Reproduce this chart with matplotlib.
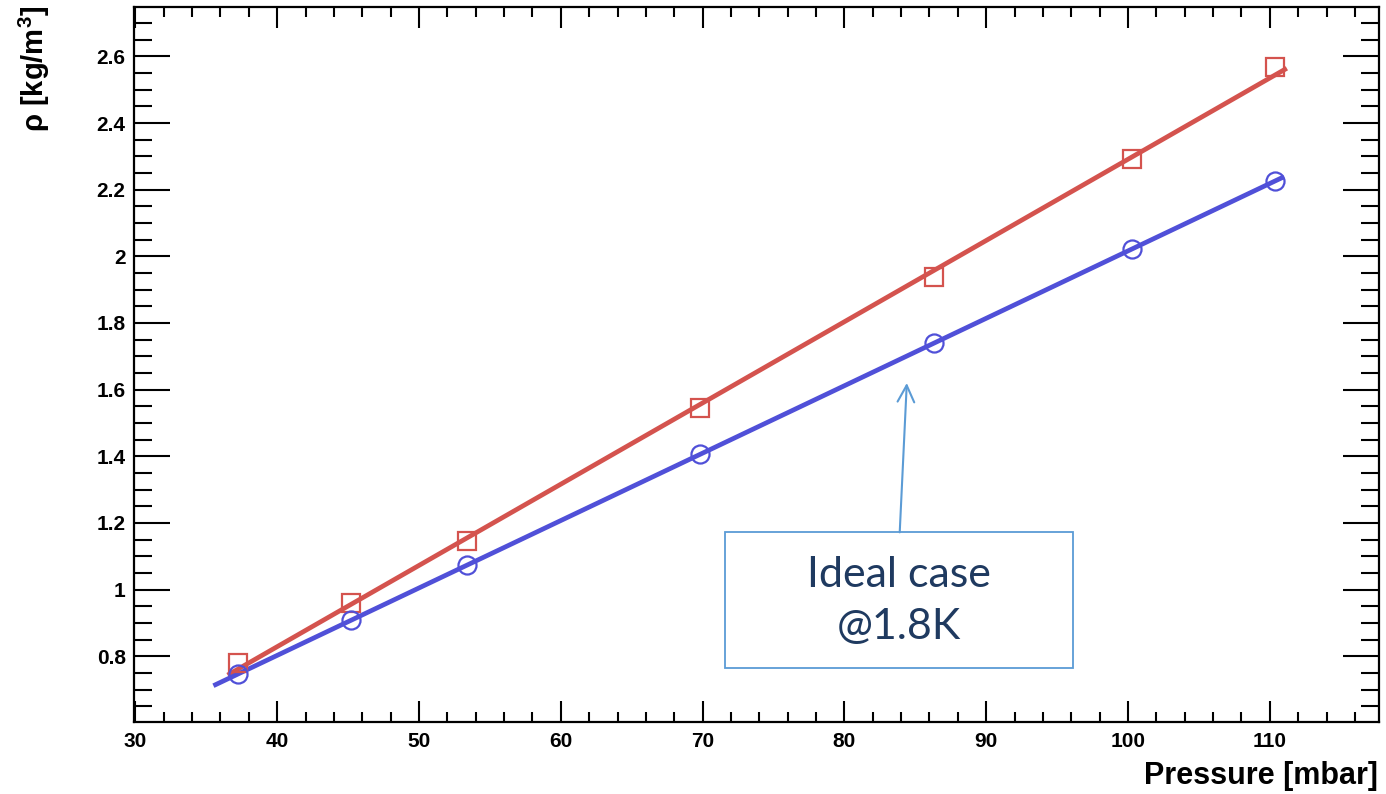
import matplotlib.pyplot as plt
import numpy as np
from matplotlib.patches import Rectangle
from matplotlib.ticker import MultipleLocator

plt.rcParams['font.family'] = ['Liberation Sans', 'DejaVu Sans']
plt.rcParams['mathtext.fontset'] = 'custom'
plt.rcParams['mathtext.rm'] = 'Liberation Sans'
plt.rcParams['mathtext.bf'] = 'Liberation Sans:bold'

# datos
pressure = [37.2, 45.2, 53.4, 69.8, 86.3, 100.3, 110.4]
rho_red = [0.779, 0.959, 1.145, 1.545, 1.938, 2.293, 2.569]
rho_blue = [0.746, 0.908, 1.073, 1.407, 1.740, 2.022, 2.226]
fit_range_red = [36.5, 111.2]
fit_range_blue = [35.5, 111.0]

red = '#d4534e'
blue = '#5050d8'

fig = plt.figure(figsize=(13.86, 7.94), dpi=100)
ax = fig.add_axes([134 / 1386, 1 - 722 / 794, (1379 - 134) / 1386, (722 - 7) / 794])

# ajustes lineales
for x, y, rng, c in [(pressure, rho_red, fit_range_red, red),
                     (pressure, rho_blue, fit_range_blue, blue)]:
    p = np.polyfit(x, y, 1)
    xx = np.array(rng)
    ax.plot(xx, np.polyval(p, xx), color=c, lw=3.4, solid_capstyle='butt', zorder=2)

ax.plot(pressure, rho_red, 's', ms=13, mfc='none', mec=red, mew=1.6, zorder=3)
ax.plot(pressure, rho_blue, 'o', ms=13, mfc='none', mec=blue, mew=1.6, zorder=3)

ax.set_xlim(29.9, 117.7)
ax.set_ylim(0.603, 2.748)
ax.xaxis.set_major_locator(MultipleLocator(10))
ax.xaxis.set_minor_locator(MultipleLocator(2))
ax.yaxis.set_major_locator(MultipleLocator(0.2))
ax.yaxis.set_minor_locator(MultipleLocator(0.05))
ax.yaxis.set_major_formatter(plt.FuncFormatter(lambda v, _: ('%g' % round(v, 2))))

ax.tick_params(axis='both', which='both', direction='in', top=True, right=True, width=1.5)
ax.tick_params(axis='x', which='major', length=15, pad=7)
ax.tick_params(axis='x', which='minor', length=7.5)
ax.tick_params(axis='y', which='major', length=26, pad=6)
ax.tick_params(axis='y', which='minor', length=13)
for lab in ax.get_xticklabels() + ax.get_yticklabels():
    lab.set_fontsize(15)
    lab.set_fontweight('bold')
for s in ax.spines.values():
    s.set_linewidth(1.6)

fig.text(1378 / 1386, 1 - 784 / 794, 'Pressure [mbar]', ha='right', va='baseline',
         fontsize=22, fontweight='bold')
fig.text(34 / 1386, 1 - 6 / 794, 'ρ [kg/m$^{\\mathbf{3}}$]', ha='center', va='top',
         rotation=90, fontsize=21, fontweight='bold')

# recuadro de anotacion
box_color = '#5b9bd5'
ax.add_patch(Rectangle((71.58, 0.764), 96.1 - 71.58, 1.172 - 0.764, fill=False,
                       ec=box_color, lw=1.3, zorder=4))
ax.text(83.84, 0.965, 'Ideal case\n@1.8K', ha='center', va='center', fontsize=31,
        color='#1f3a60', family=['Lato', 'DejaVu Sans'], linespacing=1.45, zorder=5)
ax.annotate('', xy=(84.4, 1.62), xytext=(83.9, 1.172),
            arrowprops=dict(arrowstyle='->', color=box_color, lw=1.5,
                            mutation_scale=30, shrinkA=0, shrinkB=0))

fig.savefig('out.png', dpi=100)
